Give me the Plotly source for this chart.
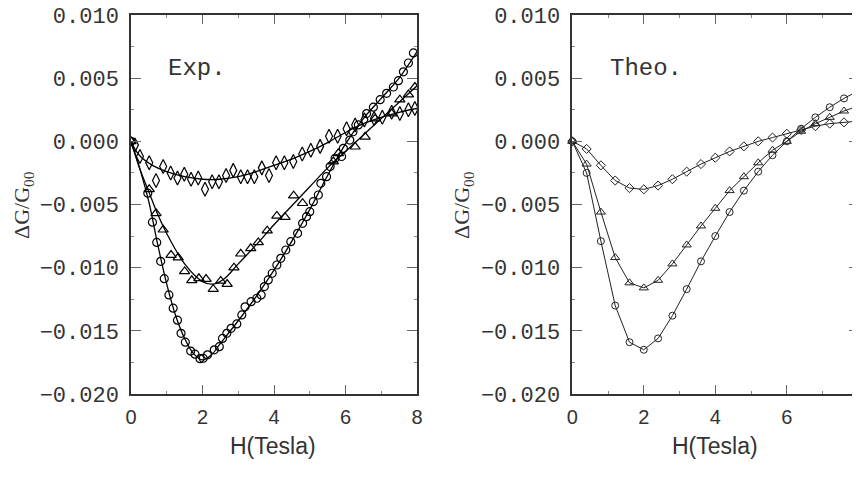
import plotly.graph_objects as go

# ---------------- Experimental data (left panel) ----------------
exp_circ_x = [0.0, 0.47, 0.6, 0.72, 0.83, 0.93, 1.06, 1.18, 1.30, 1.40, 1.52, 1.67, 1.79, 1.93, 2.02, 2.14,
              2.33, 2.47, 2.56, 2.68, 2.80, 2.96, 3.10, 3.19, 3.36, 3.52, 3.64, 3.73, 3.84, 3.95, 4.08,
              4.19, 4.33, 4.47, 4.66, 4.80, 4.91, 5.00, 5.10, 5.24, 5.31, 5.47, 5.57, 5.71, 5.89, 5.94,
              6.12, 6.21, 6.36, 6.59, 6.78, 6.97, 7.15, 7.34, 7.48, 7.62, 7.76, 7.90]
exp_circ_y = [0.0, -0.0041, -0.0064, -0.0080, -0.0095, -0.01087, -0.01216, -0.01321, -0.01416, -0.0152,
              -0.0159, -0.0166, -0.01685, -0.0172, -0.01717, -0.0169, -0.0165, -0.01625, -0.0156, -0.0152,
              -0.0148, -0.01445, -0.01374, -0.0131, -0.01269, -0.01242, -0.01216, -0.0115, -0.01097,
              -0.01044, -0.00979, -0.00926, -0.0086, -0.00794, -0.00728, -0.00649, -0.00596, -0.00557,
              -0.00478, -0.00425, -0.00332, -0.0028, -0.0020, -0.00134, -0.0012, -0.00055, 0.0001,
              0.00076, 0.0013, 0.0022, 0.0027, 0.0033, 0.0038, 0.0043, 0.0048, 0.0055, 0.0062, 0.0070]

exp_tri_x = [0.0, 0.51, 0.70, 0.90, 1.12, 1.32, 1.50, 1.70, 1.90, 2.10, 2.30, 2.51, 2.69, 2.88, 3.07,
             3.35, 3.56, 3.81, 4.08, 4.31, 4.55, 4.80, 5.66, 5.80, 6.27, 6.55, 6.83, 7.29, 7.52, 7.76, 7.94]
exp_tri_y = [0.0, -0.0038, -0.0057, -0.0070, -0.0090, -0.0092, -0.0103, -0.0110, -0.01084, -0.0109,
             -0.0117, -0.01105, -0.0113, -0.0100, -0.0089, -0.00847, -0.0080, -0.00707, -0.0059, -0.0060,
             -0.0043, -0.0049, -0.0016, -0.00095, -0.00043, 0.00036, 0.0018, 0.0022, 0.0033, 0.0037, 0.0043]

exp_dia_x = [0.11, 0.25, 0.51, 0.70, 0.90, 1.11, 1.30, 1.49, 1.68, 1.88, 2.07, 2.27, 2.46, 2.66, 2.86,
             3.07, 3.26, 3.45, 3.66, 3.86, 4.06, 4.29, 4.54, 4.79, 5.03, 5.29, 5.54, 5.78, 6.03, 6.27,
             6.53, 6.80, 7.03, 7.29, 7.52, 7.76, 7.94]
exp_dia_y = [-0.0003, -0.0012, -0.0017, -0.0031, -0.0020, -0.0025, -0.0029, -0.0026, -0.0030, -0.0029,
             -0.0038, -0.0032, -0.0032, -0.0027, -0.0023, -0.0028, -0.0028, -0.0028, -0.0021, -0.0027,
             -0.0017, -0.0017, -0.0016, -0.0010, -0.0007, -0.0004, 0.0004, 0.0004, 0.0010, 0.0013,
             0.0017, 0.0018, 0.0019, 0.0023, 0.0022, 0.0025, 0.0026]

# fitted curves
fit_circ_x = [0, 0.25, 0.5, 0.75, 1.0, 1.25, 1.5, 1.75, 2.0, 2.25, 2.5, 3.0, 3.5, 4.0, 4.5, 5.0, 5.5, 6.0, 6.5, 7.0, 7.5, 8.0]
fit_circ_y = [0, -0.0022, -0.0048, -0.0082, -0.0113, -0.0138, -0.0156, -0.0168, -0.0173, -0.0169, -0.0160,
              -0.0142, -0.0123, -0.0102, -0.0079, -0.0054, -0.0027, -0.0002, 0.0018, 0.0034, 0.0050, 0.0071]
fit_tri_x = [0, 0.25, 0.5, 0.75, 1.0, 1.5, 2.0, 2.3, 2.6, 3.0, 3.5, 4.0, 4.5, 5.0, 5.5, 6.0, 6.5, 7.0, 7.5, 8.0]
fit_tri_y = [0, -0.0022, -0.0040, -0.0058, -0.0073, -0.0097, -0.0111, -0.0113, -0.0109, -0.0097, -0.0082,
             -0.0066, -0.0051, -0.0036, -0.0021, -0.0008, 0.0005, 0.0018, 0.0031, 0.0044]
fit_dia_x = [0, 0.15, 0.3, 0.6, 1.0, 1.5, 2.0, 2.5, 3.0, 3.5, 4.0, 4.5, 5.0, 5.5, 6.0, 6.5, 7.0, 7.5, 8.0]
fit_dia_y = [0, -0.0008, -0.0013, -0.0019, -0.0024, -0.0028, -0.0030, -0.0030, -0.0028, -0.0024, -0.0019,
             -0.0014, -0.0008, -0.0001, 0.0007, 0.0014, 0.0019, 0.0023, 0.0026]

# ---------------- Theoretical data (right panel) ----------------
theo_x = [0.0, 0.4, 0.8, 1.2, 1.6, 2.0, 2.4, 2.8, 3.2, 3.6, 4.0, 4.4, 4.8, 5.2, 5.6, 6.0, 6.4, 6.8, 7.2, 7.6, 8.0]
theo_dia = [0.0, -0.0006, -0.0019, -0.0031, -0.0037, -0.0038, -0.0035, -0.0030, -0.0024, -0.0018, -0.0013,
            -0.0008, -0.0004, 0.0, 0.0003, 0.0006, 0.0009, 0.0012, 0.0014, 0.0015, 0.0016]
theo_tri = [0.0, -0.0018, -0.0056, -0.0092, -0.0112, -0.0116, -0.0110, -0.0097, -0.0082, -0.0067, -0.0053,
            -0.0039, -0.0028, -0.0017, -0.0007, 0.0, 0.0008, 0.0014, 0.0019, 0.0024, 0.0028]
theo_circ = [0.0, -0.0025, -0.0079, -0.0130, -0.0159, -0.0165, -0.0156, -0.0138, -0.0117, -0.0095, -0.0075,
             -0.0056, -0.0039, -0.0024, -0.0011, 0.0, 0.0010, 0.0019, 0.0027, 0.0034, 0.0040]

y_ticks = [0.010, 0.005, 0.000, -0.005, -0.010, -0.015, -0.020]
x_ticks = [0, 2, 4, 6, 8]

# page has an 8px body margin: size the figure to fill the rest of the window
OFF = 8
W, H = 860 - OFF, 477 - OFF


def px(p):
    return (p - OFF) / W


def py(p):
    return 1 - (p - OFF) / H


fig = go.Figure()

mk = dict(color="black", width=1.2)
for fx, fy in [(fit_circ_x, fit_circ_y), (fit_tri_x, fit_tri_y), (fit_dia_x, fit_dia_y)]:
    fig.add_trace(go.Scatter(x=fx, y=fy, mode="lines", line=dict(color="black", width=1.3, shape="spline"),
                             xaxis="x", yaxis="y", showlegend=False, hoverinfo="skip"))
fig.add_trace(go.Scatter(x=exp_circ_x, y=exp_circ_y, mode="markers",
                         marker=dict(symbol="circle-open", size=8, line=mk, color="black"),
                         xaxis="x", yaxis="y", showlegend=False))
fig.add_trace(go.Scatter(x=exp_tri_x, y=exp_tri_y, mode="markers",
                         marker=dict(symbol="triangle-up-open", size=9, line=mk, color="black"),
                         xaxis="x", yaxis="y", showlegend=False))
fig.add_trace(go.Scatter(x=exp_dia_x, y=exp_dia_y, mode="markers",
                         marker=dict(symbol="diamond-tall-open", size=10, line=mk, color="black"),
                         xaxis="x", yaxis="y", showlegend=False))

lk = dict(color="#222", width=1)
mk2 = dict(color="#222", width=1)
fig.add_trace(go.Scatter(x=theo_x, y=theo_circ, mode="lines+markers", line=lk,
                         marker=dict(symbol="circle-open", size=7, line=mk2, color="#222"),
                         xaxis="x2", yaxis="y2", showlegend=False, cliponaxis=False))
fig.add_trace(go.Scatter(x=theo_x, y=theo_tri, mode="lines+markers", line=lk,
                         marker=dict(symbol="triangle-up-open", size=8, line=mk2, color="#222"),
                         xaxis="x2", yaxis="y2", showlegend=False, cliponaxis=False))
fig.add_trace(go.Scatter(x=theo_x, y=theo_dia, mode="lines+markers", line=lk,
                         marker=dict(symbol="diamond-open", size=7, line=mk2, color="#222"),
                         xaxis="x2", yaxis="y2", showlegend=False, cliponaxis=False))

ydom = [py(394), py(15)]
xdom1 = [px(131), px(417)]
xdom2 = [px(572.3), px(858.3)]


def xax(dom, anchor):
    return dict(domain=dom, anchor=anchor, range=[0, 8], tickvals=x_ticks, ticks="inside", ticklen=9,
                tickcolor="#666", tickwidth=1, showline=True, linecolor="#333", linewidth=1.5, mirror="ticks",
                showgrid=False, zeroline=False, ticklabelstandoff=4, automargin=False,
                ticklabeloverflow="allow",
                tickfont=dict(family="Liberation Sans", size=20, color="#333"),
                minor=dict(tickvals=[1, 3, 5, 7], ticks="inside", ticklen=3, tickcolor="#888"))


def yax(anchor):
    return dict(domain=ydom, anchor=anchor, range=[-0.020, 0.010], tickvals=y_ticks, tickformat=".3f",
                ticks="inside", ticklen=10, tickcolor="#666", tickwidth=1, showline=True, linecolor="#333",
                linewidth=1.5, mirror="ticks", showgrid=False, zeroline=False, ticklabelstandoff=6,
                automargin=False, ticklabeloverflow="allow",
                tickfont=dict(family="Liberation Mono", size=22, color="#333"),
                minor=dict(dtick=0.0025, tick0=0, ticks="inside", ticklen=3, tickcolor="#888"))


fig.update_layout(
    width=W, height=H, margin=dict(l=0, r=0, t=0, b=0, autoexpand=False),
    paper_bgcolor="white", plot_bgcolor="white",
    xaxis=xax(xdom1, "y"), yaxis=yax("x"),
    xaxis2=xax(xdom2, "y2"), yaxis2=yax("x2"),
)

ann = []
for cx in [23, 463]:
    ann.append(dict(x=px(cx), y=py(205), xref="paper", yref="paper", text="ΔG/G<sub>00</sub>",
                    xanchor="center", yanchor="middle",
                    textangle=-90, showarrow=False, font=dict(family="Liberation Serif", size=22, color="#333")))
for cx in [273, 715]:
    ann.append(dict(x=px(cx), y=py(446), xref="paper", yref="paper", text="H(Tesla)",
                    xanchor="center", yanchor="middle",
                    showarrow=False, font=dict(family="Liberation Sans", size=23, color="#333")))
ann.append(dict(x=1.84, y=0.0058, xref="x", yref="y", text="Exp.", showarrow=False,
                xanchor="center", yanchor="middle",
                font=dict(family="Liberation Mono", size=24, color="#333")))
ann.append(dict(x=2.06, y=0.0058, xref="x2", yref="y2", text="Theo.", showarrow=False,
                xanchor="center", yanchor="middle",
                font=dict(family="Liberation Mono", size=24, color="#333")))
fig.update_layout(annotations=ann)

fig.write_html("out.html")
